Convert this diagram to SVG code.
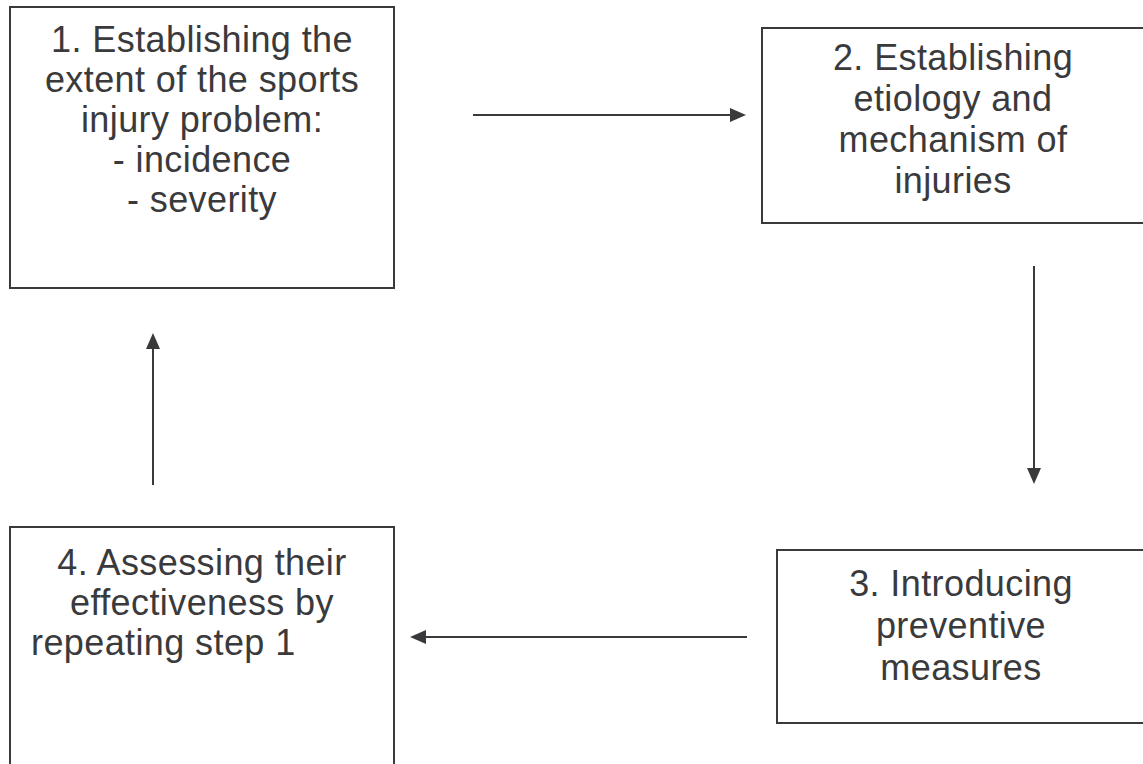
<svg xmlns="http://www.w3.org/2000/svg" width="1143" height="764" viewBox="0 0 1143 764">
  <style>
    .box { fill: #ffffff; stroke: #3a3a3d; stroke-width: 2; }
    .lbl { font-family: "Liberation Sans", Arial, sans-serif; font-size: 36px; fill: #3a3a3d; letter-spacing: 0.4px; }
    .mid { text-anchor: middle; }
    .conn { stroke: #3a3a3d; stroke-width: 2; fill: none; marker-end: url(#arr); }
  </style>
  <defs>
    <marker id="arr" markerUnits="userSpaceOnUse" markerWidth="17" markerHeight="15" refX="1" refY="7" orient="auto">
      <path d="M0,0 L16,7 L0,14 Z" fill="#3a3a3d"/>
    </marker>
  </defs>
  <rect width="1143" height="764" fill="#ffffff"/>

  <g id="node1">
    <rect class="box" x="10" y="7" width="384" height="281"/>
    <text class="lbl mid" x="202" y="52">1. Establishing the</text>
    <text class="lbl mid" x="202" y="92">extent of the sports</text>
    <text class="lbl mid" x="202" y="132">injury problem:</text>
    <text class="lbl mid" x="202" y="172">- incidence</text>
    <text class="lbl mid" x="202" y="212">- severity</text>
  </g>

  <g id="node2">
    <rect class="box" x="762" y="28" width="400" height="195"/>
    <text class="lbl mid" x="953" y="70">2. Establishing</text>
    <text class="lbl mid" x="953" y="111">etiology and</text>
    <text class="lbl mid" x="953" y="152">mechanism of</text>
    <text class="lbl mid" x="953" y="193">injuries</text>
  </g>

  <g id="node3">
    <rect class="box" x="777" y="550" width="400" height="173"/>
    <text class="lbl mid" x="961" y="596">3. Introducing</text>
    <text class="lbl mid" x="961" y="638">preventive</text>
    <text class="lbl mid" x="961" y="680">measures</text>
  </g>

  <g id="node4">
    <rect class="box" x="10" y="527" width="384" height="260"/>
    <text class="lbl mid" x="202" y="575">4. Assessing their</text>
    <text class="lbl mid" x="202" y="615">effectiveness by</text>
    <text class="lbl" x="31" y="655">repeating step 1</text>
  </g>

  <g id="connectors">
    <path class="conn" d="M473,115 L731,115"/>
    <path class="conn" d="M1034,266 L1034,469"/>
    <path class="conn" d="M747,637 L425,637"/>
    <path class="conn" d="M153,485 L153,348"/>
  </g>
</svg>
